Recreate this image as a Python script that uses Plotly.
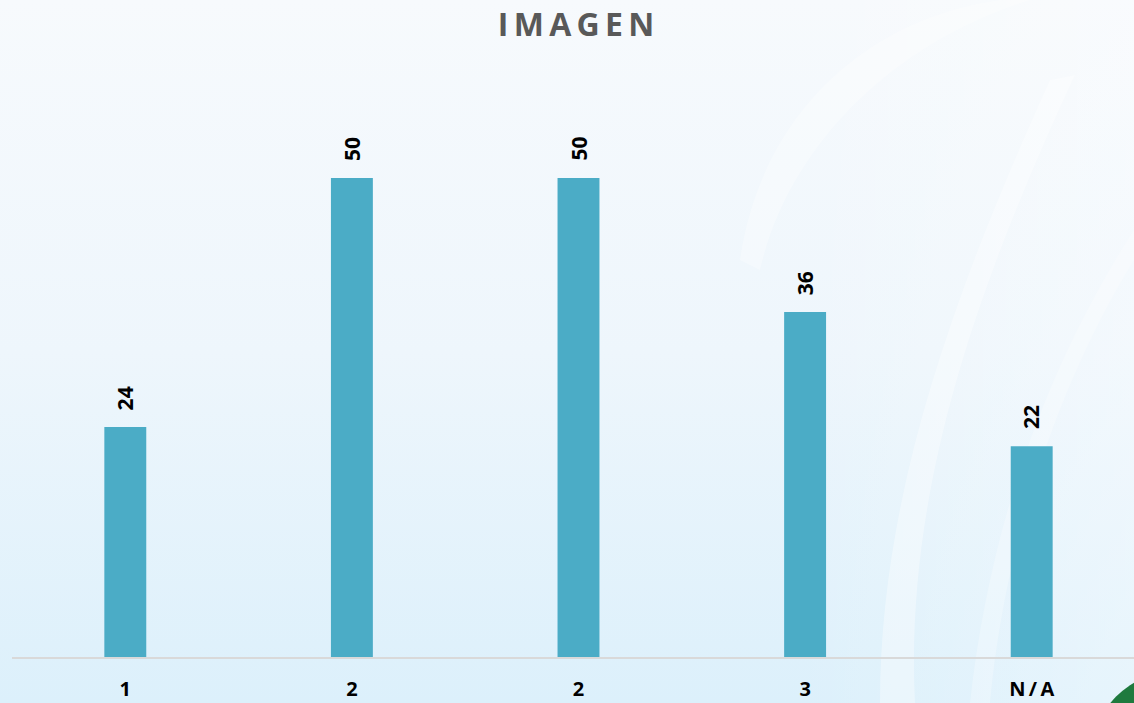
import base64
import plotly.graph_objects as go

# ---- data ----
categories = ["1", "2", "2", "3", "N\u2009/\u2009A"]
values = [24, 50, 50, 36, 22]
title_text = "I\u2009M\u2009A\u2009G\u2009E\u2009N"

# ---- style ----
W, H = 1134, 703
ML, MR, MT, MB = 12, 0, 90, 46
BAR_COLOR = "#4BACC6"
PX_PER_UNIT = 9.58

plot_w = W - ML - MR
plot_h = H - MT - MB
ymax = plot_h / PX_PER_UNIT

svg = f"""<svg xmlns='http://www.w3.org/2000/svg' width='{W}' height='{H}' viewBox='0 0 {W} {H}'>
<defs>
<linearGradient id='g' x1='0' y1='0' x2='0' y2='1'>
<stop offset='0' stop-color='#f7fafd'/>
<stop offset='0.5' stop-color='#eef6fc'/>
<stop offset='1' stop-color='#dcf0fb'/>
</linearGradient>
<linearGradient id='h' x1='0' y1='0' x2='1' y2='0'>
<stop offset='0' stop-color='#ffffff' stop-opacity='0'/>
<stop offset='0.7' stop-color='#ffffff' stop-opacity='0'/>
<stop offset='1' stop-color='#ffffff' stop-opacity='0.3'/>
</linearGradient>
</defs>
<rect width='{W}' height='{H}' fill='url(#g)'/>
<rect width='{W}' height='{H}' fill='url(#h)'/>
<path d='M 740 260 C 760 120 860 20 1000 0 L 1030 0 C 900 40 790 140 760 270 Z' fill='#ffffff' fill-opacity='0.3'/>
<path d='M 880 703 C 880 500 950 300 1050 80 L 1075 75 C 970 300 905 500 915 703 Z' fill='#ffffff' fill-opacity='0.35'/>
<path d='M 970 703 C 990 520 1050 360 1134 230 L 1134 260 C 1060 380 1005 540 990 703 Z' fill='#ffffff' fill-opacity='0.25'/>
<circle cx='1180' cy='760' r='90' fill='#1f7a3e'/>
<circle cx='1185' cy='768' r='80' fill='#eaf5fb'/>
</svg>"""
bg_uri = "data:image/svg+xml;base64," + base64.b64encode(svg.encode()).decode()

x_pos = list(range(len(categories)))

fig = go.Figure()
fig.add_trace(go.Bar(
    x=x_pos,
    y=values,
    width=0.185,
    marker=dict(color=BAR_COLOR, line=dict(width=0)),
    hoverinfo="skip",
))

for xi, v in zip(x_pos, values):
    fig.add_annotation(
        x=xi, y=v, text=f"<b>{v}</b>", textangle=-90, showarrow=False,
        yshift=29, xanchor="center", yanchor="middle",
        font=dict(family="Open Sans", size=21, color="#000000"),
    )

fig.add_layout_image(
    source=bg_uri, xref="paper", yref="paper",
    x=-ML / plot_w, y=1 + MT / plot_h,
    sizex=W / plot_w, sizey=H / plot_h,
    xanchor="left", yanchor="top", sizing="stretch", layer="below",
)

fig.update_layout(
    width=W, height=H, autosize=False,
    margin=dict(l=ML, r=MR, t=MT, b=MB, pad=0, autoexpand=False),
    paper_bgcolor="#f3f8fc",
    plot_bgcolor="rgba(0,0,0,0)",
    showlegend=False,
    title=dict(
        text=f"<b>{title_text}</b>", x=576 / W, xanchor="center", y=1 - 25 / H, yanchor="middle",
        xref="container", yref="container",
        font=dict(family="Open Sans", size=32, color="#595959"),
    ),
    xaxis=dict(
        range=[-0.5, -0.5 + plot_w / 226.6],
        tickmode="array", tickvals=x_pos, ticktext=[f"<b>{c}</b>" for c in categories],
        showgrid=False, zeroline=False, automargin=False,
        showline=True, linecolor="#d9d9d9", linewidth=2,
        ticks="", ticklabelstandoff=13,
        tickfont=dict(family="Open Sans", size=20, color="#000000"),
        fixedrange=True,
    ),
    yaxis=dict(
        range=[0, ymax], visible=False, showgrid=False, zeroline=False,
        automargin=False, fixedrange=True,
    ),
)

fig.write_html(
    "out.html",
    config={"displayModeBar": False},
    post_script="document.body.style.margin='0';document.body.style.overflow='hidden';",
)
